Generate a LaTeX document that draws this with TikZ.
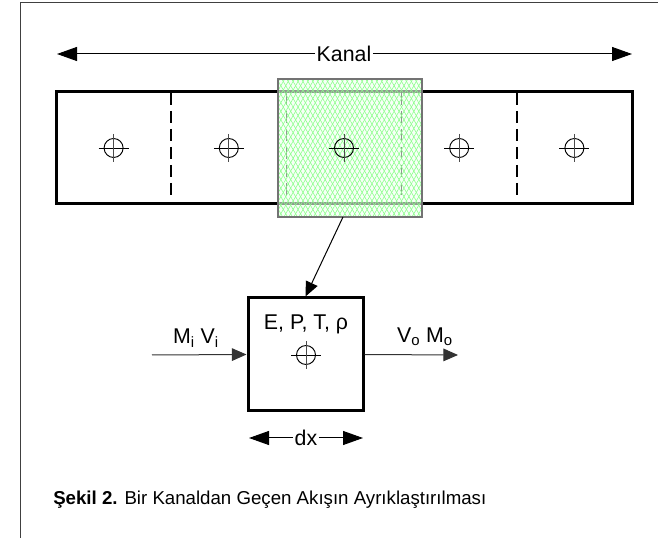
\documentclass[tikz,border=0pt]{standalone}
\usepackage{fontspec}
\setmainfont{Liberation Sans}
\usetikzlibrary{arrows.meta,patterns.meta}

\newcommand{\merkez}[2]{%
    \draw [line width=0.7pt] ({#1},{#2}) circle [radius=9.5];
    \draw [line width=0.7pt] ({#1},{#2}) ++(-15,0) -- ++(30,0);
    \draw [line width=0.7pt, black!70] ({#1},{#2}) ++(0,-14) -- ++(0,28);
}

\begin{document}
\begin{tikzpicture}[x=0.75pt,y=-0.75pt,
    bigtip/.style={-{Triangle[length=15pt,width=10.5pt]}, line width=0.75pt},
    smalltip/.style={-{Triangle[length=11pt,width=9.5pt]}, line width=0.75pt},
    lbl/.style={font=\fontsize{16}{19}\selectfont, inner sep=1pt}]
    \pgfmathsetmacro{\xa}{56}
    \pgfmathsetmacro{\w}{115.2}
    \pgfmathsetmacro{\xb}{\xa+5*\w}
    \pgfmathsetmacro{\ya}{92}
    \pgfmathsetmacro{\yb}{204}
    \pgfmathsetmacro{\ym}{148}

    \useasboundingbox (0,0) rectangle (658,538);
    \draw [line width=1.1pt, black!75] (20.7,540) -- (20.7,2.7) -- (660,2.7);

    \node[lbl] (kanal) at (344,54) {Kanal};
    \coordinate (kl) at (57,54);
    \coordinate (kr) at (632,54);
    \draw [bigtip] (kanal.west) -- (kl);
    \draw [bigtip] (kanal.east) -- (kr);

    \draw [line width=2.25pt] (\xa,\ya) rectangle (\xb,\yb);
    \foreach \i in {1,...,4}
        \draw [line width=1.1pt, dash pattern=on 9pt off 4.5pt]
            ({\xa+\i*\w},93) -- ({\xa+\i*\w},197);
    \foreach \i in {0,1,3,4} {
        \merkez{\xa+(\i+0.5)*\w}{\ym}
    }

    \fill [green!5, fill opacity=0.6] (278,79) rectangle (422,217);
    \fill [pattern={Lines[angle=60,distance=3.2pt,line width=0.45pt]}, pattern color=green!45]
        (278,79) rectangle (422,217);
    \fill [pattern={Lines[angle=-60,distance=3.2pt,line width=0.45pt]}, pattern color=green!45]
        (278,79) rectangle (422,217);
    \draw [line width=1pt, black!55] (278,79) rectangle (422,217);
    \merkez{\xa+2.5*\w}{\ym}
    \coordinate (hb) at (343,217);

    \node[draw, line width=2.25pt, minimum width=86.25pt, minimum height=84.75pt,
        inner sep=0pt] (kutu) at (305.5,354.5) {};
    \draw [smalltip] (hb) -- (kutu.north);
    \node[lbl] (dgs) at (306,324) {E, P, T, ρ};
    \merkez{306}{355}

    \coordinate (gi) at (152,355);
    \coordinate (ci) at (458,355);
    \draw [smalltip, black!80] (gi) -- (kutu.west);
    \draw [smalltip, black!80] (kutu.east) -- (ci);
    \node[lbl] (giris) at (196,338) {M\textsubscript{i} V\textsubscript{i}};
    \node[lbl] (cikis) at (425,337) {V\textsubscript{o} M\textsubscript{o}};

    \node[lbl] (dx) at (306,438) {dx};
    \coordinate (dxl) at (249,438);
    \coordinate (dxr) at (363,438);
    \draw [bigtip] (dx.west) -- (dxl);
    \draw [bigtip] (dx.east) -- (dxr);

    \node[anchor=west, inner sep=0pt, font=\fontsize{14}{17}\selectfont] (baslik) at (53,500)
        {\textbf{Şekil 2.} Bir Kanaldan Geçen Akışın Ayrıklaştırılması};
\end{tikzpicture}
\end{document}
